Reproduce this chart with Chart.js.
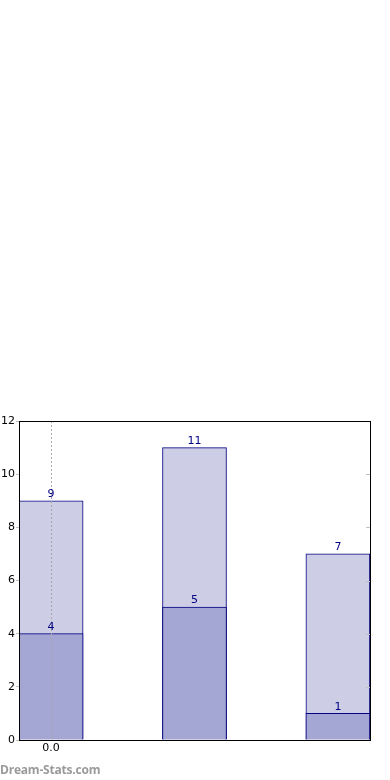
<!DOCTYPE html>
<html>
<head>
<meta charset="utf-8">
<script src="https://cdn.jsdelivr.net/npm/chart.js@4"></script>
<style>
  html, body { margin: 0; padding: 0; background: #fff; }
  #wrap { position: relative; width: 390px; height: 780px; }
  #mark {
    position: absolute; left: 0; top: 761px;
    font: bold 12px 'Open Sans', sans-serif; color: #9a9a9a;
    letter-spacing: -0.2px;
  }
</style>
</head>
<body>
<div id="wrap">
  <canvas id="chart" width="390" height="780"></canvas>
  <div id="mark">Dream-Stats.com</div>
</div>
<script>
// chart values
const positions = [0, 1, 2]
const totals = [9, 11, 7]
const parts = [4, 5, 1]
const xTicks = [0]
const yTicks = [0, 2, 4, 6, 8, 10, 12]

const navy = '#000080'

// draws the dotted x gridline, frame, inner tick marks and the value labels
const decorations = {
  id: 'decorations',
  afterDraw(chart) {
    const { ctx, chartArea: a, scales } = chart
    ctx.save()
    ctx.lineWidth = 1
    // dotted gridline at the x ticks, above the bars
    ctx.strokeStyle = '#a8a8a8'
    ctx.setLineDash([2, 2])
    xTicks.forEach((v) => {
      const x = Math.round(scales.x.getPixelForValue(v)) + 0.5
      ctx.beginPath()
      ctx.moveTo(x, a.top)
      ctx.lineTo(x, a.bottom)
      ctx.stroke()
    })
    ctx.setLineDash([])
    // inner tick marks on the right side
    ctx.strokeStyle = '#c0c0c0'
    yTicks.forEach((v) => {
      const y = Math.round(scales.y.getPixelForValue(v)) + 0.5
      ctx.beginPath()
      ctx.moveTo(a.right - 4, y)
      ctx.lineTo(a.right, y)
      ctx.stroke()
    })
    // frame
    ctx.strokeStyle = '#000'
    ctx.strokeRect(a.left + 0.5, a.top + 0.5, a.right - a.left, a.bottom - a.top)
    // value labels
    ctx.fillStyle = navy
    ctx.font = '11px "DejaVu Sans"'
    ctx.textAlign = 'center'
    ctx.textBaseline = 'bottom'
    chart.data.datasets.forEach((ds, i) => {
      const meta = chart.getDatasetMeta(i)
      meta.data.forEach((bar, j) => {
        ctx.fillText(String(ds.data[j].y), bar.x, bar.y - 1)
      })
    })
    ctx.restore()
  },
}

const chartConfig = {
  type: 'bar',
  data: {
    datasets: [
      {
        label: 'part',
        data: positions.map((x, i) => ({ x: x, y: parts[i] })),
        backgroundColor: '#a4a6d3',
        borderColor: navy,
        borderWidth: 1,
        borderSkipped: 'bottom',
        barThickness: 64,
        order: 1,
      },
      {
        label: 'total',
        data: positions.map((x, i) => ({ x: x, y: totals[i] })),
        backgroundColor: '#cdcde6',
        borderColor: navy,
        borderWidth: 1,
        borderSkipped: 'bottom',
        barThickness: 64,
        order: 2,
      },
    ],
  },
  options: {
    responsive: false,
    animation: false,
    grouped: false,
    layout: { padding: { top: 421, right: 20, bottom: 20, left: 0 } },
    scales: {
      x: {
        type: 'linear',
        offset: false,
        min: -0.224,
        max: 2.224,
        afterBuildTicks: (scale) => {
          scale.ticks = xTicks.map((v) => ({ value: v }))
        },
        afterFit: (scale) => {
          scale.height = 20
        },
        ticks: {
          color: '#000',
          font: { family: 'DejaVu Sans', size: 11 },
          padding: 2,
          callback: (v) => Number(v).toFixed(1),
        },
        grid: { offset: false, drawOnChartArea: false, drawTicks: false },
        border: { color: '#000' },
      },
      y: {
        min: 0,
        max: 12,
        afterBuildTicks: (scale) => {
          scale.ticks = yTicks.map((v) => ({ value: v }))
        },
        afterFit: (scale) => {
          scale.width = 19
        },
        ticks: {
          color: '#000',
          font: { family: 'DejaVu Sans', size: 11 },
          padding: 1,
        },
        grid: { drawOnChartArea: false, tickLength: 3, tickColor: '#c0c0c0' },
        border: { color: '#000' },
      },
    },
    plugins: {
      legend: { display: false },
      tooltip: { enabled: false },
    },
  },
  plugins: [decorations],
}

new Chart(document.getElementById('chart'), chartConfig)
</script>
</body>
</html>
